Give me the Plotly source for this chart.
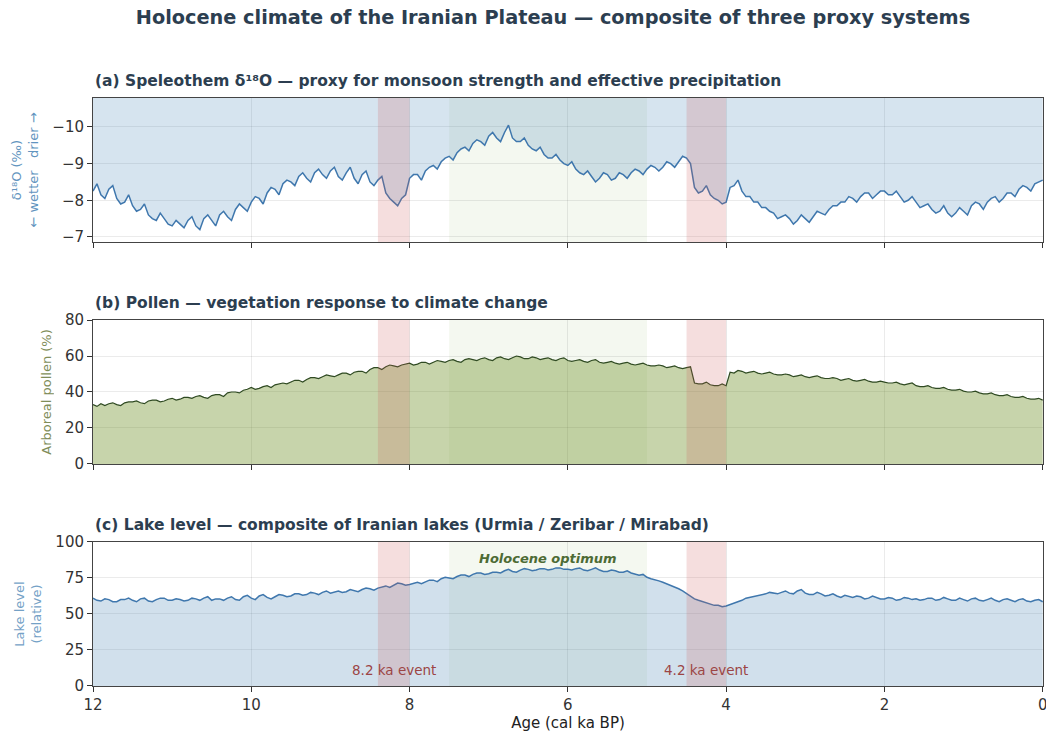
import plotly.graph_objects as go

# Age grid (cal ka BP), 12.00 -> 0.00 in 0.05 ka steps
age = [round(12.0 - 0.05 * i, 2) for i in range(241)]

d18o = [
    -8.25, -8.45, -8.15, -8.05, -8.3, -8.4, -8.05, -7.9, -7.95, -8.15,
    -7.85, -7.7, -7.75, -7.9, -7.6, -7.5, -7.45, -7.65, -7.5, -7.35,
    -7.3, -7.45, -7.35, -7.25, -7.45, -7.55, -7.3, -7.2, -7.5, -7.6,
    -7.45, -7.3, -7.6, -7.7, -7.55, -7.45, -7.75, -7.9, -7.8, -7.7,
    -7.95, -8.1, -8.05, -7.9, -8.2, -8.35, -8.3, -8.15, -8.45, -8.55,
    -8.5, -8.4, -8.65, -8.75, -8.6, -8.5, -8.75, -8.85, -8.7, -8.6,
    -8.8, -8.9, -8.65, -8.55, -8.75, -8.9, -8.6, -8.45, -8.7, -8.8,
    -8.5, -8.4, -8.55, -8.65, -8.2, -8.05, -7.95, -7.85, -8.05, -8.15,
    -8.6, -8.7, -8.7, -8.55, -8.8, -8.9, -8.95, -8.85, -9.05, -9.15,
    -9.2, -9.1, -9.3, -9.4, -9.45, -9.35, -9.55, -9.65, -9.6, -9.5,
    -9.75, -9.85, -9.7, -9.6, -9.85, -10.05, -9.7, -9.6, -9.6, -9.7,
    -9.5, -9.4, -9.35, -9.45, -9.25, -9.15, -9.15, -9.25, -9.1, -9.0,
    -8.95, -9.05, -8.85, -8.75, -8.7, -8.8, -8.65, -8.5, -8.6, -8.75,
    -8.7, -8.55, -8.6, -8.75, -8.7, -8.6, -8.75, -8.85, -8.8, -8.7,
    -8.85, -8.95, -8.9, -8.8, -8.9, -9.05, -9.0, -8.9, -9.05, -9.2,
    -9.15, -9.0, -8.35, -8.2, -8.25, -8.4, -8.15, -8.05, -8.0, -7.9,
    -7.95, -8.35, -8.4, -8.55, -8.25, -8.1, -8.1, -7.95, -7.95, -7.8,
    -7.8, -7.7, -7.65, -7.5, -7.55, -7.6, -7.5, -7.35, -7.45, -7.6,
    -7.5, -7.4, -7.55, -7.7, -7.65, -7.6, -7.75, -7.85, -7.85, -7.95,
    -7.95, -8.1, -8.05, -7.95, -8.1, -8.2, -8.2, -8.05, -8.15, -8.25,
    -8.25, -8.15, -8.15, -8.25, -8.1, -7.95, -8.0, -8.1, -7.95, -7.8,
    -7.85, -7.9, -7.75, -7.65, -7.7, -7.85, -7.65, -7.55, -7.65, -7.8,
    -7.7, -7.6, -7.85, -7.95, -7.9, -7.75, -7.95, -8.05, -8.1, -7.95,
    -8.05, -8.2, -8.2, -8.1, -8.3, -8.4, -8.35, -8.25, -8.45, -8.5,
    -8.55]

pollen = [
    33, 32, 33.5, 32.5, 33.5, 34, 33, 32.5, 34, 34.5,
    34.5, 35, 34, 33.5, 35, 35.5, 35.5, 34.5, 35, 36,
    36.5, 35.5, 36, 37, 37, 36.5, 37.5, 38, 37, 36.5,
    38, 38.5, 38.5, 37.5, 39.5, 40, 40, 39.5, 41, 41.5,
    42.5, 41.5, 42, 43, 43.5, 42.5, 44, 44.5, 45, 44.5,
    45.5, 46.5, 46.5, 45.5, 47, 48, 48, 47.5, 48.5, 49.5,
    49, 48.5, 49.5, 50.5, 50.5, 49.5, 51, 51.5, 51.5, 50.5,
    52.5, 53.5, 53.5, 52.5, 54, 55, 54.5, 54, 55, 55.5,
    56, 55, 55.5, 56.5, 56.5, 55.5, 56.5, 57.5, 57, 56.5,
    57.5, 58, 57, 56.5, 58, 58.5, 58, 57.5, 58.5, 59,
    58, 57.5, 59, 59.5, 58.5, 58, 59, 60, 59.5, 58.5,
    58.5, 59.5, 59, 58, 58.5, 59, 58, 57.5, 58.5, 59,
    57.5, 57, 57.5, 58, 57, 56.5, 57.5, 58, 56.5, 56,
    56.5, 57, 56, 55.5, 56, 56.5, 55.5, 55, 55.5, 56,
    55, 54.5, 54.5, 55, 54.5, 53.5, 54, 54.5, 53.5, 53,
    53.5, 54, 45, 44.5, 44.5, 45.5, 44, 43.5, 43.5, 44.5,
    43.5, 51, 50.5, 52, 51.5, 50.5, 51, 51.5, 50.5, 50,
    50.5, 51, 50, 49.5, 49.5, 50, 49.5, 48.5, 49, 49.5,
    48.5, 48, 48.5, 49, 48, 47.5, 47.5, 48, 47.5, 46.5,
    47, 47.5, 46.5, 46, 46.5, 47, 46, 45.5, 45.5, 46,
    45.5, 45, 45, 45.5, 44.5, 44, 44.5, 45, 43.5, 43,
    43, 43.5, 42.5, 42, 42, 42.5, 41.5, 41, 41, 41.5,
    40.5, 40, 40, 40.5, 39.5, 39, 39, 39.5, 38.5, 38,
    38, 38.5, 37.5, 37, 37, 37.5, 36.5, 36, 36, 36.5,
    35.5]

lake = [
    61, 59.5, 59, 60.5, 60, 58.5, 58.5, 60, 60, 61,
    59.5, 58.5, 60.5, 61, 59, 58.5, 60, 61, 61, 59.5,
    59.5, 60.5, 60, 59, 59.5, 61, 60.5, 59.5, 61, 62,
    59.5, 60.5, 60.5, 59.5, 61, 62, 60, 59.5, 62, 63,
    61, 60, 62.5, 63.5, 61.5, 60.5, 62, 63.5, 63, 62,
    62.5, 64, 64, 63, 63.5, 65, 64.5, 63.5, 65, 66,
    64.5, 65.5, 66, 65, 65.5, 67, 66.5, 65.5, 67, 68,
    67.5, 66.5, 68, 69, 69.5, 68.5, 70, 71.5, 71, 70,
    70.5, 71.5, 72, 71, 72.5, 73.5, 73.5, 72.5, 74.5, 75.5,
    75, 74.5, 76, 77, 77, 76, 77.5, 78.5, 78.5, 77.5,
    78, 79, 79, 78.5, 80, 81, 79.5, 79, 80.5, 81.5,
    81, 80, 80.5, 81.5, 81.5, 80.5, 81, 82, 82, 81,
    81, 80.5, 81.5, 82, 80.5, 80, 81, 82, 80.5, 79.5,
    79.5, 80.5, 80, 79, 79, 80, 78.5, 77.5, 77, 77.5,
    75.5, 74.5, 74, 73, 72, 71, 70, 68.5, 67.5, 66,
    64, 62, 60.5, 59.5, 58.5, 57.5, 57, 56, 56, 55,
    55.5, 56.5, 57, 58.5, 59.5, 61, 61.5, 62.5, 63, 63.5,
    64, 65, 64.5, 64, 65, 66, 64.5, 64, 66, 67,
    64.5, 63.5, 63.5, 65, 64, 62.5, 63, 64, 62.5, 61.5,
    63, 62.5, 61.5, 62.5, 62, 60.5, 61, 62.5, 61.5, 60.5,
    60.5, 61.5, 61, 59.5, 60, 61.5, 61, 60, 60.5, 59.5,
    60, 61, 61, 59.5, 60, 61.5, 60.5, 59.5, 59.5, 61,
    60, 59, 60.5, 61, 59.5, 59, 60, 61, 59.5, 58.5,
    60, 60.5, 59.5, 58.5, 60, 60.5, 59, 58.5, 59.5, 60,
    58.5]

events = [("8.2 ka event", 8.4, 8.0), ("4.2 ka event", 4.5, 4.0)]
optimum = ("Holocene optimum", 7.5, 5.0)

panel_titles = [
    "(a) Speleothem δ¹⁸O — proxy for monsoon strength and effective precipitation",
    "(b) Pollen — vegetation response to climate change",
    "(c) Lake level — composite of Iranian lakes (Urmia / Zeribar / Mirabad)",
]

FONT = "DejaVu Sans"
BLUE = "#3f77ad"
GREEN_LINE = "#2f4a22"
TITLE_C = "#2c3e50"

domains = [(0.755, 1.0), (0.3776, 0.6224), (0.0, 0.2449)]
yranges = [[-6.86, -10.79], [0, 80], [0, 100]]

fig = go.Figure()

top_a = yranges[0][1]
fig.add_trace(go.Scatter(x=age, y=[top_a] * len(age), mode="lines",
                         line=dict(width=0, color="rgba(0,0,0,0)"),
                         xaxis="x", yaxis="y", showlegend=False, hoverinfo="skip"))
fig.add_trace(go.Scatter(x=age, y=d18o, mode="lines", fill="tonexty",
                         fillcolor="rgba(70,130,180,0.22)",
                         line=dict(color=BLUE, width=1.5),
                         xaxis="x", yaxis="y", showlegend=False))

fig.add_trace(go.Scatter(x=age, y=pollen, mode="lines", fill="tozeroy",
                         fillcolor="rgba(107,142,35,0.38)",
                         line=dict(color=GREEN_LINE, width=1.2),
                         xaxis="x2", yaxis="y2", showlegend=False))

fig.add_trace(go.Scatter(x=age, y=lake, mode="lines", fill="tozeroy",
                         fillcolor="rgba(70,130,180,0.25)",
                         line=dict(color=BLUE, width=1.5),
                         xaxis="x3", yaxis="y3", showlegend=False))

TICKFONT = dict(family=FONT, size=15, color="#333")
axis_common = dict(range=[12, -0.004], showgrid=True, gridcolor="rgba(0,0,0,0.08)",
                   ticks="outside", ticklen=5, tickcolor="#333",
                   showline=True, linecolor="#444", linewidth=1, mirror=True,
                   dtick=2, tick0=0, zeroline=False, automargin=False,
                   ticklabeloverflow="allow",
                   tickfont=TICKFONT)
yaxis_common = dict(showgrid=True, gridcolor="rgba(0,0,0,0.08)",
                    ticks="outside", ticklen=5, tickcolor="#333",
                    showline=True, linecolor="#444", linewidth=1, mirror=True,
                    zeroline=False, automargin=False,
                    tickfont=TICKFONT)

ytitles = [("δ¹⁸O (‰)<br>← wetter   drier →", "rgba(70,130,180,0.85)"),
           ("Arboreal pollen (%)", "rgba(107,122,60,0.85)"),
           ("Lake level<br>(relative)", "rgba(70,130,180,0.75)")]
ydticks = [1, 20, 25]

layout = dict(
    width=1046, height=734,
    paper_bgcolor="white", plot_bgcolor="white",
    margin=dict(l=93, r=3, t=98, b=48),
    title=dict(text="<b>Holocene climate of the Iranian Plateau — composite of three proxy systems</b>",
               x=553 / 1046, xanchor="center", y=1 - 17 / 734, yanchor="middle",
               font=dict(family=FONT, size=19.3, color=TITLE_C)),
    font=dict(family=FONT),
)

for i in range(3):
    xk = "xaxis" if i == 0 else f"xaxis{i+1}"
    yk = "yaxis" if i == 0 else f"yaxis{i+1}"
    ya = "y" if i == 0 else f"y{i+1}"
    xa = "x" if i == 0 else f"x{i+1}"
    xd = dict(axis_common, anchor=ya, domain=[0, 1])
    if i < 2:
        xd["showticklabels"] = False
        xd["matches"] = "x3"
    else:
        xd["title"] = dict(text="Age (cal ka BP)", font=dict(family=FONT, size=15, color="#222"),
                           standoff=2)
    layout[xk] = xd
    yd = dict(yaxis_common, anchor=xa, domain=list(domains[i]), range=yranges[i],
              dtick=ydticks[i],
              title=dict(text=ytitles[i][0], font=dict(family=FONT, size=13, color=ytitles[i][1]),
                         standoff=10))
    if i == 0:
        yd["tick0"] = -10
    layout[yk] = yd

fig.update_layout(**layout)

shapes = []
annotations = []
for i in range(3):
    xa = "x" if i == 0 else f"x{i+1}"
    yd = "y domain" if i == 0 else f"y{i+1} domain"
    shapes.append(dict(type="rect", xref=xa, yref=yd, x0=optimum[1], x1=optimum[2],
                       y0=0, y1=1, fillcolor="rgba(144,190,109,0.10)", line=dict(width=0),
                       layer="below"))
    for name, a0, a1 in events:
        shapes.append(dict(type="rect", xref=xa, yref=yd, x0=a0, x1=a1, y0=0, y1=1,
                           fillcolor="rgba(205,92,92,0.2)", line=dict(width=0),
                           layer="above"))
    annotations.append(dict(text=f"<b>{panel_titles[i]}</b>", xref="paper", yref="paper",
                            x=0, y=domains[i][1], xanchor="left", yanchor="bottom", yshift=6,
                            showarrow=False,
                            font=dict(family=FONT, size=15.5, color=TITLE_C)))

for name, a0, a1 in events:
    annotations.append(dict(text=name, xref="x3", yref="y3", x=(a0 + a1) / 2, y=11,
                            showarrow=False, xanchor="center", yanchor="middle",
                            font=dict(family=FONT, size=13.5, color="#9c4545")))
annotations.append(dict(text="<b><i>Holocene optimum</i></b>", xref="x3", yref="y3",
                        x=(optimum[1] + optimum[2]) / 2, y=88.5, showarrow=False,
                        xanchor="center", yanchor="middle",
                        font=dict(family=FONT, size=13, color="#4d6b35")))

fig.update_layout(shapes=shapes, annotations=annotations)
fig.write_html("out.html", config={"displayModeBar": False},
               post_script="document.body.style.margin='0px';document.body.style.overflow='hidden';")
